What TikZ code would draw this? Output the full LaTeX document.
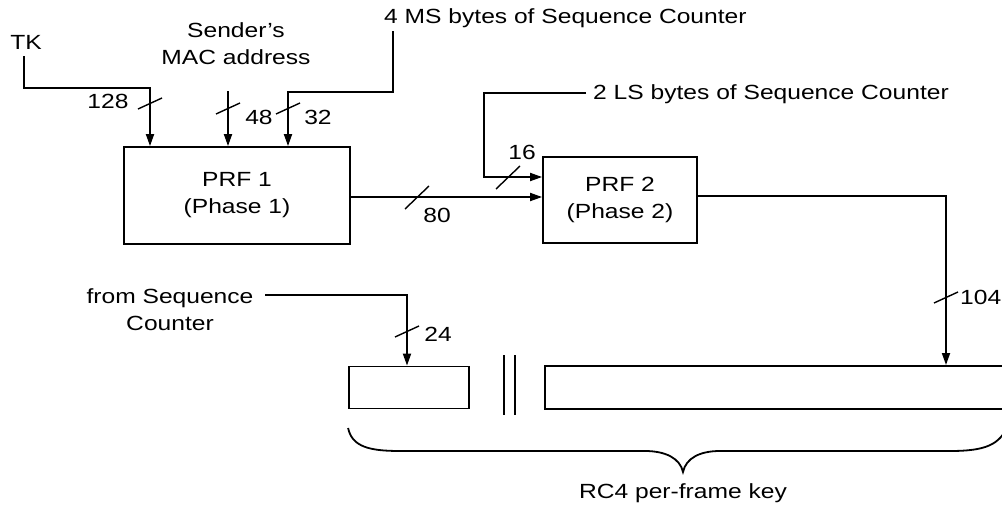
\documentclass[tikz,border=0pt]{standalone}
\usepackage{fontspec}
\setmainfont{Liberation Sans}[FakeStretch=1.2]
\usetikzlibrary{arrows.meta}
\begin{document}
\begin{tikzpicture}[x=1pt,y=-1pt,
  wire/.style={line width=1.8pt},
  feed/.style={wire,-{Triangle[length=12pt,width=8pt]}},
  box/.style={draw,line width=1.8pt,inner sep=0pt,align=center,
    font=\fontsize{20.5}{27}\selectfont},
  lbl/.style={inner sep=0pt,font=\fontsize{20.5}{27}\selectfont},
  tick/.style={line width=1.4pt}
]
\useasboundingbox (0,0) rectangle (1002,509);
\clip (0,0) rectangle (1002,509);

% pseudo-random function blocks
\node[box,minimum width=226pt,minimum height=97pt] (prf1) at (237,195.5) {PRF 1\\(Phase 1)};
\node[box,minimum width=154pt,minimum height=86pt] (prf2) at (620,200) {PRF 2\\(Phase 2)};

% per-frame key fields
\node[draw,line width=1.8pt,minimum width=120pt,minimum height=42pt,inner sep=0pt] (lo) at (409,387.5) {};
\node[draw,line width=1.8pt,minimum width=470pt,minimum height=43pt,inner sep=0pt,anchor=north west] (hi) at (544,365) {};
\coordinate (bar1) at (504,355);
\coordinate (bar2) at (515,355);
\draw[wire] (bar1) -- ++(0,60);
\draw[wire] (bar2) -- ++(0,60);

% input labels
\node[lbl] (tk) at (26,42) {TK};
\node[lbl,align=center] (mac) at (236,44) {Sender's\\MAC address};
\node[lbl,anchor=west] (ms) at (384,18) {4 MS bytes of Sequence Counter};
\node[lbl,anchor=west] (ls) at (593,94) {2 LS bytes of Sequence Counter};
\node[lbl,align=center] (seq) at (170,310) {from Sequence\\Counter};
\node[lbl] (key) at (683,493) {RC4 per-frame key};

% bit widths
\node[lbl] (w128) at (108,101) {128};
\node[lbl] (w48) at (259,117) {48};
\node[lbl] (w32) at (318,117) {32};
\node[lbl] (w80) at (437,215) {80};
\node[lbl] (w16) at (522,152) {16};
\node[lbl,anchor=west] (w104) at (960,297) {104};
\node[lbl] (w24) at (438,334) {24};

% bend points of the feeds
\coordinate (tkA) at (24,56);
\coordinate (tkB) at (24,88);
\coordinate (macA) at (228,91);
\coordinate (msA) at (393,31);
\coordinate (msB) at (393,92);
\coordinate (lsA) at (586,93);
\coordinate (lsB) at (484,93);
\coordinate (seqA) at (265,295);

% feeds into PRF 1
\draw[feed] (tkA) -- (tkB) -| (prf1.north -| 150,0);
\draw[feed] (macA) -- (prf1.north -| macA);
\draw[feed] (msA) -- (msB) -| (prf1.north -| 288,0);

% PRF 1 to PRF 2
\draw[feed] (prf1.east |- 0,197) -- (prf2.west |- 0,197);
\draw[feed] (lsA) -- (lsB) |- (prf2.west |- 0,177);

% outputs to the key
\draw[feed] (prf2.east |- 0,196) -| (hi.north -| 946,0);
\draw[feed] (seqA) -| (lo.north -| 407,0);

% width marks
\draw[tick] (138,109) -- (162,98);
\draw[tick] (216,114) -- (240,103);
\draw[tick] (276,114) -- (300,103);
\draw[tick] (405,209) -- (429,186);
\draw[tick] (496,189) -- (520,166);
\draw[tick] (934,303) -- (958,292);
\draw[tick] (395,337) -- (419,326);

% brace under the whole key
\draw[wire] (lo.south west |- 0,428) .. controls (352,447) and (370,451) .. (400,451)
  -- (645,451) .. controls (665,451) and (680,458) .. (key.north |- 0,472)
  .. controls (686,458) and (700,451) .. (720,451)
  -- (950,451) .. controls (985,451) and (1000,445) .. (1008,425);
\end{tikzpicture}
\end{document}
